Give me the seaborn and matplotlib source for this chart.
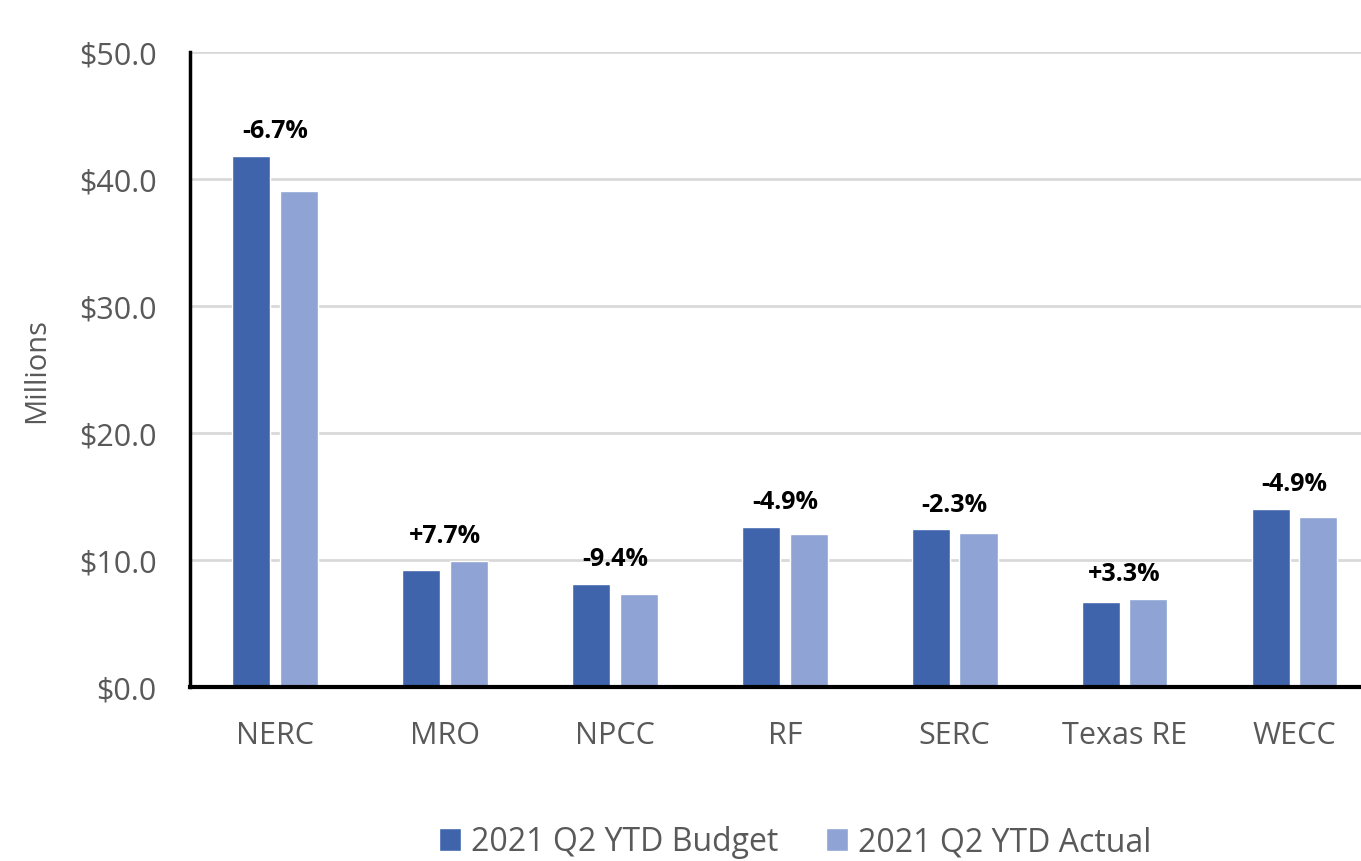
import pandas as pd
import matplotlib.pyplot as plt
import seaborn as sns

regions = ["NERC", "MRO", "NPCC", "RF", "SERC", "Texas RE", "WECC"]
budget = [41.8, 9.2, 8.1, 12.6, 12.4, 6.7, 14.0]
actual = [39.0, 9.9, 7.3, 12.0, 12.1, 6.9, 13.4]
variance = ["-6.7%", "+7.7%", "-9.4%", "-4.9%", "-2.3%", "+3.3%", "-4.9%"]
series = ["2021 Q2 YTD Budget", "2021 Q2 YTD Actual"]

df = pd.DataFrame({
    "Region": regions * 2,
    "Serie": [series[0]] * len(regions) + [series[1]] * len(regions),
    "Valor": budget + actual,
})

sns.set_style("white")
plt.rcParams["font.family"] = ["Open Sans", "DejaVu Sans"]

gris = "#595959"
fig = plt.figure(figsize=(13.61, 8.62), dpi=100)
ax = fig.add_axes([0.1396, 0.202, 0.874, 0.737])

sns.barplot(data=df, x="Region", y="Valor", hue="Serie", hue_order=series,
            palette=["#3F64AB", "#8FA4D4"], width=0.56, gap=0.2,
            saturation=1, ax=ax)

# etiquetas de variacion encima del par de barras
for i, txt in enumerate(variance):
    ax.text(i, max(budget[i], actual[i]) + 1.0, txt, ha="center", va="bottom",
            fontsize=18, fontweight="bold", color="black")

ax.set_ylim(0, 50)
ax.set_xlim(-0.5, 6.5)
ax.set_yticks([0, 10, 20, 30, 40, 50])
ax.set_yticklabels([f"${v:.1f}" for v in [0, 10, 20, 30, 40, 50]])
ax.yaxis.grid(True, color="#D9D9D9", linewidth=2)
ax.set_axisbelow(True)
ax.tick_params(axis="y", labelsize=22, labelcolor=gris, length=0, pad=24)
ax.tick_params(axis="x", labelsize=22, labelcolor=gris, length=0, pad=24)
ax.set_xlabel("")
ax.set_ylabel("Millions", fontsize=21, color=gris, labelpad=20)

for s in ["top", "right"]:
    ax.spines[s].set_visible(False)
ax.spines["left"].set_linewidth(2.5)
ax.spines["left"].set_color("black")
ax.spines["bottom"].set_linewidth(3)
ax.spines["bottom"].set_color("black")

ax.legend(loc="center", bbox_to_anchor=(795 / 1361, 1 - 843 / 862),
          bbox_transform=fig.transFigure, ncol=2, frameon=False,
          fontsize=23, labelcolor=gris, handlelength=0.7, handleheight=0.7,
          handletextpad=0.3, columnspacing=1.5)

fig.savefig("out.png", dpi=100)
